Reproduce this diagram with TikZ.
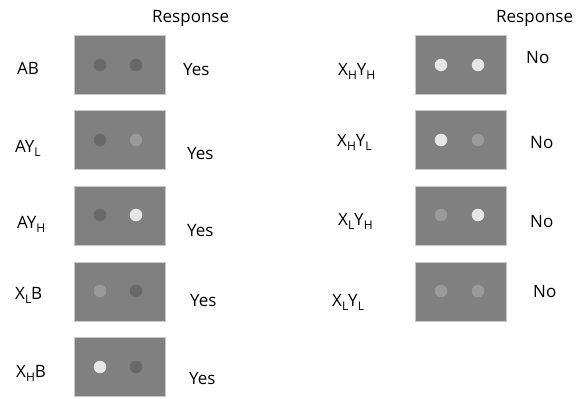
\documentclass[tikz,border=0pt]{standalone}
\usepackage{fontspec}
\setmainfont{Open Sans}
\definecolor{boxgray}{HTML}{808080}
\definecolor{boxedge}{HTML}{C8C8C8}
\definecolor{dotdark}{HTML}{686868}
\definecolor{dotmid}{HTML}{9A9A9A}
\definecolor{dotlight}{HTML}{E6E6E6}
\newcommand{\sbx}[1]{\raisebox{-4.5pt}{\fontsize{12}{12}\selectfont #1}}
\begin{document}
\begin{tikzpicture}[x=1pt,y=-1pt,
  lbl/.style={anchor=base west,inner sep=0pt,font=\fontsize{17}{20}\selectfont},
  stim/.style={fill=boxgray,draw=boxedge,line width=0.8pt,minimum width=91pt,minimum height=59pt,inner sep=0pt},
  dot/.style={circle,minimum size=12.5pt,inner sep=0pt,draw=none}]
\useasboundingbox (0,0) rectangle (587,399);
% left column boxes
\node[stim] (b1) at (120,65) {};
\node[stim] (b2) at (120,140) {};
\node[stim] (b3) at (120,216) {};
\node[stim] (b4) at (120,291.5) {};
\node[stim] (b5) at (120,367) {};
% right column boxes
\node[stim] (c1) at (461,65) {};
\node[stim] (c2) at (461,140) {};
\node[stim] (c3) at (461,216) {};
\node[stim] (c4) at (461,291.5) {};
% dots left
\node[dot,fill=dotdark] (d1a) at (100,65) {};
\node[dot,fill=dotdark] (d1b) at (136,65) {};
\node[dot,fill=dotdark] (d2a) at (100,140) {};
\node[dot,fill=dotmid] (d2b) at (136,140) {};
\node[dot,fill=dotdark] (d3a) at (100,215) {};
\node[dot,fill=dotlight] (d3b) at (136,215) {};
\node[dot,fill=dotmid] (d4a) at (100,291) {};
\node[dot,fill=dotdark] (d4b) at (136,291) {};
\node[dot,fill=dotlight] (d5a) at (100,367) {};
\node[dot,fill=dotdark] (d5b) at (136,367) {};
% dots right
\node[dot,fill=dotlight] (e1a) at (441,65) {};
\node[dot,fill=dotlight] (e1b) at (478,65) {};
\node[dot,fill=dotlight] (e2a) at (441,140) {};
\node[dot,fill=dotmid] (e2b) at (478,140) {};
\node[dot,fill=dotmid] (e3a) at (441,215) {};
\node[dot,fill=dotlight] (e3b) at (478,215) {};
\node[dot,fill=dotmid] (e4a) at (441,291) {};
\node[dot,fill=dotmid] (e4b) at (478,291) {};
% headers
\node[lbl] (r1) at (152,22) {Response};
\node[lbl] (r2) at (496,22) {Response};
% left labels
\node[lbl] (l1) at (17,74) {AB};
\node[lbl] (l2) at (15,152) {AY\sbx{L}};
\node[lbl] (l3) at (17,228) {AY\sbx{H}};
\node[lbl] (l4) at (15,299) {X\sbx{L}B};
\node[lbl] (l5) at (16,377) {X\sbx{H}B};
% yes
\node[lbl] (y1) at (183,75) {Yes};
\node[lbl] (y2) at (187,159) {Yes};
\node[lbl] (y3) at (187,236) {Yes};
\node[lbl] (y4) at (190,306) {Yes};
\node[lbl] (y5) at (189,384) {Yes};
% right labels
\node[lbl] (m1) at (338,75) {X\sbx{H}Y\sbx{H}};
\node[lbl] (m2) at (337,146) {X\sbx{H}Y\sbx{L}};
\node[lbl] (m3) at (338,225) {X\sbx{L}Y\sbx{H}};
\node[lbl] (m4) at (332,306) {X\sbx{L}Y\sbx{L}};
% no
\node[lbl] (n1) at (526,63) {No};
\node[lbl] (n2) at (530,148) {No};
\node[lbl] (n3) at (530,227) {No};
\node[lbl] (n4) at (533,297) {No};
\end{tikzpicture}
\end{document}
